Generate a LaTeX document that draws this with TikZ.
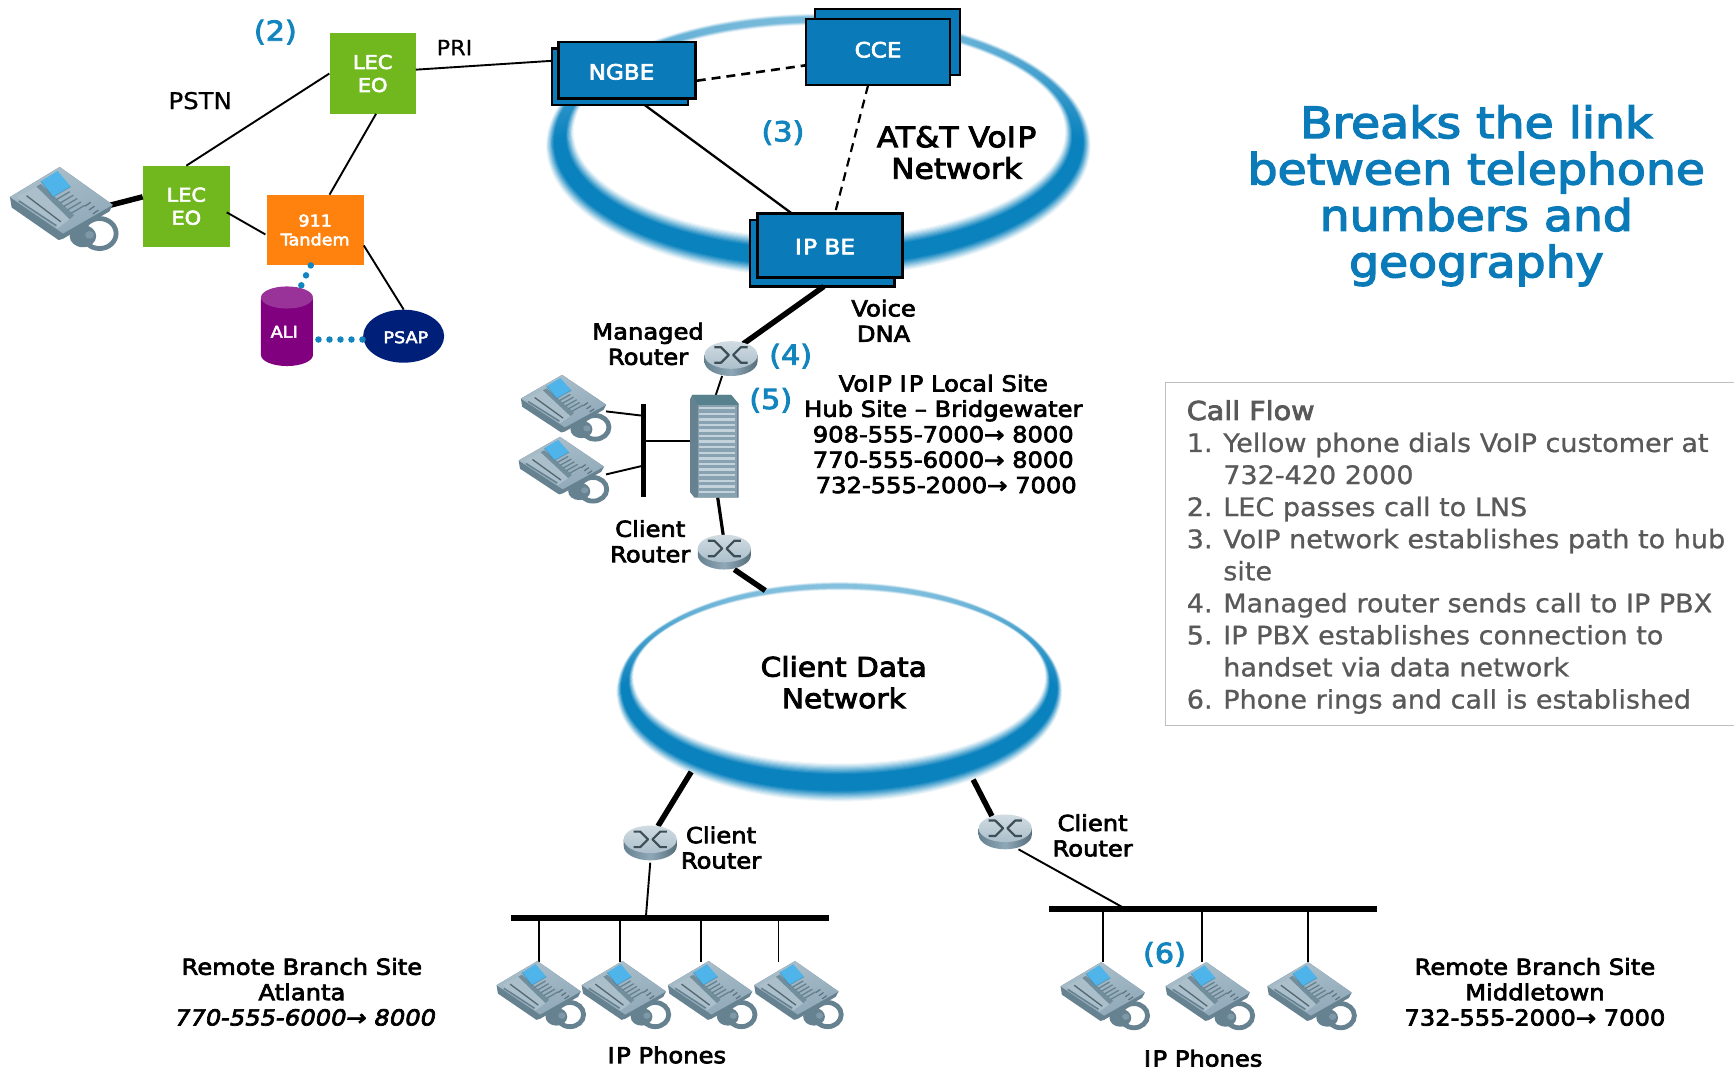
\documentclass[tikz,border=0pt]{standalone}
\usepackage{fontspec}
\usetikzlibrary{shapes.geometric,calc}
\setmainfont{DejaVu Sans}
\newfontfamily\labf[FakeBold=3.2,FakeStretch=1.1]{DejaVu Sans}
\newfontfamily\labi[FakeBold=3.2,FakeStretch=1.1,FakeSlant=0.2]{DejaVu Sans}
\newfontfamily\regf[FakeBold=0.8,FakeStretch=1.06]{DejaVu Sans}
\definecolor{attblue}{HTML}{0A7AB8}
\definecolor{ringblue}{HTML}{0A82BE}
\definecolor{numblue}{HTML}{1285BF}
\definecolor{lecgreen}{HTML}{70B81E}
\definecolor{tandem}{HTML}{FF820E}
\definecolor{alipurple}{HTML}{800080}
\definecolor{alitop}{HTML}{993399}
\definecolor{psapblue}{HTML}{001F78}
\definecolor{phbody}{HTML}{8FA8B8}
\definecolor{phdark}{HTML}{66818F}
\definecolor{phlight}{HTML}{ABBFCB}
\definecolor{phscreen}{HTML}{4FB4EA}
\definecolor{cfgrey}{HTML}{595959}
\tikzset{
  x=1.1059pt,y=-1.1059pt,
  lab/.style={font=\labf\fontsize{22}{25.4}\selectfont,align=center,inner sep=0pt,text=black},
  labit/.style={font=\labi\fontsize{22}{25.4}\selectfont,align=center,inner sep=0pt,text=black},
  netlab/.style={font=\labf\fontsize{27}{31.5}\selectfont,align=center,inner sep=0pt,text=black},
  numlab/.style={font=\labf\fontsize{27.5}{30}\selectfont,inner sep=0pt,text=numblue},
  thinlab/.style={font=\regf\fontsize{21}{25}\selectfont,inner sep=0pt,text=black},
  whitelab/.style={font=\labf\fontsize{19}{23}\selectfont,align=center,text=white},
  bluebox/.style={draw=black,line width=2.4pt,fill=attblue,inner sep=0pt},
  boxlab/.style={font=\labf\fontsize{21}{25}\selectfont,text=white,inner sep=0pt},
  thin line/.style={draw=black,line width=1.9pt},
  mid line/.style={draw=black,line width=3.2pt},
  thick line/.style={draw=black,line width=5.5pt},
  dash line/.style={draw=black,line width=2.6pt,dash pattern=on 9pt off 6pt},
  dot line/.style={draw=numblue,line width=6.5pt,line cap=round,dash pattern=on 0pt off 11pt},
  phone/.pic={
    \draw[phdark,line width=4.8pt] (81,51) ellipse [x radius=15,y radius=11.5];
    \fill[phdark] (66,53) ellipse [x radius=12,y radius=8.5];
    \fill[phbody!60!phdark] (72,52) ellipse [x radius=4,y radius=3];
    \fill[phdark] (0,23)--(45,0)--(93,29)--(90,34)--(48,55)--(44,56)--(1.5,31)--cycle;
    \path[left color=phlight,right color=phbody,shading angle=20] (0,23)--(45,0)--(93,29)--(48,51)--cycle;
    \path[fill=phlight] (6,23)--(24,15)--(54,40)--(43,47)--cycle;
    \draw[phdark,line width=1.6pt] (8,26)--(42,45);
    \draw[phdark!80!black,line width=1.3pt] (15,22)--(46,42);
    \fill[phdark!70!phbody] (24,15)--(28,13)--(58,37)--(54,40)--cycle;
    \fill[phscreen] (28,11)--(43,3)--(55,15)--(39,23)--cycle;
    \draw[phscreen!50!black,opacity=.3,line width=.8pt] (28,11)--(39,23)--(55,15);
    \foreach \k in {0,1,2,3,4}{
      \draw[phdark,line width=1.3pt] ($(42,25)+(\k*3.4,\k*2.6)$)--($(54,19)+(\k*3.4,\k*2.6)$);
    }
    \foreach \k in {0,1,2}{
      \draw[phdark!90!black,line width=1.2pt] ($(68,30)+(\k*3.5,\k*3)$)--($(73,27)+(\k*3.5,\k*3)$);
    }
  },
  router/.pic={
    \path[left color=phdark,right color=phdark!85!black,middle color=phbody] (0,13)--(0,19) arc[start angle=180,end angle=360,x radius=24,y radius=-13]--(48,13)--cycle;
    \path[top color=phlight!55!white,bottom color=phlight] (24,13) ellipse [x radius=24,y radius=12.5];
    \draw[phdark!60!black,line width=2.2pt,line join=round] (9,6)--(15,6)--(22,13)--(15,20)--(9,20) (39,6)--(33,6)--(26,13)--(33,20)--(39,20);
  }
}
\newcommand\boxat[7]{%
  \pgfmathsetmacro\bw{(#4-#2)*1.1059}\pgfmathsetmacro\bh{(#5-#3)*1.1059}%
  \node[#6,rectangle,minimum width=\bw pt,minimum height=\bh pt] (#1) at ({(#2+#4)/2},{(#3+#5)/2}) {#7};}
\newcommand\ringell[9]{%
  \foreach \i in {0,...,36}{
    \pgfmathsetmacro\t{\i/36}
    \pgfmathsetmacro\cxx{#1+(#5-#1)*\t}
    \pgfmathsetmacro\cyy{#2+(#6-#2)*\t}
    \pgfmathsetmacro\rxx{#3+(#7-#3)*\t}
    \pgfmathsetmacro\ryy{#4+(#8-#4)*\t}
    \pgfmathsetmacro\pp{\i==36 ? 0 : min(100,100*1.3*sin(180*\t)^1.3)}
    \pgfmathsetmacro\qq{\pp*#9}
    \path[top color=ringblue!\qq!white,bottom color=ringblue!\pp!white,middle color=ringblue!\pp!white] (\cxx,\cyy) ellipse [x radius=\rxx,y radius=\ryy];
  }}
\begin{document}
\begin{tikzpicture}
\useasboundingbox (0,0) rectangle (1568,967.5);
\fill[white] (0,0) rectangle (1568,967.5);
% rings
\ringell{740}{132}{247}{120}{741}{119}{222}{96}{0.55}
\ringell{759}{626}{202}{100}{759}{612}{186}{78}{0.5}
% nodes
\boxat{lecA}{298}{30}{376}{103}{fill=lecgreen,whitelab}{LEC\\EO}
\boxat{lecB}{129}{150}{208}{223}{fill=lecgreen,whitelab}{LEC\\EO}
\boxat{tand}{241}{176}{329}{240}{fill=tandem,whitelab,font=\labf\fontsize{16}{19}\selectfont}{911\\Tandem}
\boxat{ngbeb}{499}{44}{622}{95}{bluebox}{}
\boxat{ngbe}{505}{38}{629}{89}{bluebox}{}
\boxat{cceb}{737}{8}{868}{68}{bluebox}{}
\boxat{cce}{729}{17}{859}{77}{bluebox}{}
\boxat{ipbeb}{678}{199}{809}{259}{bluebox}{}
\boxat{ipbe}{685}{193}{816}{251}{bluebox}{}
\node[boxlab] (ngbet) at (562,65) {NGBE};
\node[boxlab] (ccet) at (794,45) {CCE};
\node[boxlab] (ipbet) at (746,223) {I\kern1.5pt P BE};
% ALI cylinder
\path[fill=alipurple] (236,270)--(236,321) arc[start angle=180,end angle=360,x radius=23.5,y radius=-10]--(283,270)--cycle;
\fill[alitop] (259.5,269) ellipse [x radius=23.5,y radius=10];
\node[inner sep=0pt,text=white,font=\labf\fontsize{16}{19}\selectfont] (ali) at (257,300) {ALI};
\node[ellipse,fill=psapblue,minimum width=81pt,minimum height=53pt,inner sep=0pt] (psap) at (365,304) {};
\node[inner sep=0pt,text=white,font=\labf\fontsize{16}{19}\selectfont] (psapt) at (367,305) {PSAP};
% anchors for connector ends
\coordinate (lecAb) at (340,103);
\coordinate (tandt) at (298,176);
\coordinate (lecBe) at (205,192);
\coordinate (tandw) at (240,212);
\coordinate (tande) at (329,222);
\coordinate (lecAe) at (376,63);
\coordinate (ngbeW) at (499,55);
\coordinate (ngbeE) at (630,73);
\coordinate (cceW) at (729,59);
\coordinate (cceS) at (785,77);
\coordinate (ipT) at (755,193);
\coordinate (ipT2) at (716,193);
\coordinate (ngS) at (583,95);
\coordinate (ipS) at (745,259);
\coordinate (rmN) at (672,311);
\coordinate (rmS) at (653,340);
\coordinate (srvN) at (647,358);
\coordinate (srvS) at (649,450);
\coordinate (rcN) at (654,484);
\coordinate (rcS) at (664,515);
\coordinate (netT) at (692,534);
\coordinate (netBL) at (625,698);
\coordinate (rlN) at (595,747);
\coordinate (rlS) at (588,780);
\coordinate (netBR) at (880,705);
\coordinate (rrN) at (897,738);
\coordinate (rrS) at (921,768);
\coordinate (barLt) at (584,830);
\coordinate (barRt) at (1018,822);
\coordinate (phM) at (98,186);
\coordinate (lecBw) at (129,178);
\coordinate (aliT) at (272,259);
\coordinate (tandb) at (281,240);
\coordinate (aliE) at (288,307);
\coordinate (psW) at (330,307);
% connectors
\draw[thin line] (lecA.west)--(lecB.north);
\draw[thin line] (lecAe)--(ngbeW);
\draw[thin line] (lecAb)--(tandt);
\draw[thin line] (lecBe)--(tandw);
\draw[thin line] (tande)--(psap.north);
\draw[thick line] (phM)--(lecBw);
\draw[dot line] (tandb)--(aliT);
\draw[dot line] (aliE)--(psW);
\draw[dash line] (ngbeE)--(cceW);
\draw[dash line,line width=2.2pt] (cceS)--(ipT);
\draw[thin line,line width=2.3pt] (ngS)--(ipT2);
\draw[thick line] (ipS)--(rmN);
\draw[thin line] (rmS)--(srvN);
\draw[mid line] (srvS)--(rcN);
\draw[thick line] (rcS)--(netT);
\draw[thick line] (netBL)--(rlN);
\draw[thin line] (rlS)--(barLt);
\draw[thick line] (netBR)--(rrN);
\draw[thin line] (rrS)--(barRt);
% buses
\coordinate (busHa) at (582,365); \coordinate (busHb) at (582,449);
\draw[thick line] (busHa)--(busHb);
\coordinate (busLa) at (462,830); \coordinate (busLb) at (750,830);
\draw[thick line] (busLa)--(busLb);
\coordinate (busRa) at (949,822); \coordinate (busRb) at (1245,822);
\draw[thick line] (busRa)--(busRb);
% hub phones wiring
\coordinate (h1a) at (548,372); \coordinate (h1b) at (582,376);
\coordinate (h2a) at (548,429); \coordinate (h2b) at (582,421);
\coordinate (h3a) at (582,399); \coordinate (h3b) at (624,399);
\draw[thin line] (h1a)--(h1b); \draw[thin line] (h2a)--(h2b); \draw[thin line] (h3a)--(h3b);
\foreach \nm/\xx/\bb/\tt in {la/487/830/870,lb/561/830/870,lc/634/830/870,ld/704/830/870,ra/997/822/870,rb/1087/822/870,rc/1183/822/870}{
  \coordinate (d\nm a) at (\xx,\bb); \coordinate (d\nm b) at (\xx,\tt);
  \draw[thin line] (d\nm a)--(d\nm b);
}
% phones
\pic[xscale=1,yscale=1.18] at (9,151) {phone};
\pic[xscale=.83,yscale=.93] at (471,339) {phone};
\pic[xscale=.83,yscale=.93] at (469,395) {phone};
\foreach \xx in {449,526,604,682}{\pic[xscale=.82,yscale=.95] at (\xx,869) {phone};}
\foreach \xx in {959,1054,1146}{\pic[xscale=.82,yscale=.95] at (\xx,870) {phone};}
% routers
\pic at (637,308) {router};
\pic at (631,483) {router};
\pic at (564,746) {router};
\pic at (885,736) {router};
% server
\fill[phdark] (624,361)--(626,357)--(661,357)--(668,365)--(668,450)--(628,450)--(624,445)--cycle;
\fill[phdark!85!teal] (626,357)--(661,357)--(668,366)--(631,366)--cycle;
\fill[phbody!85!phdark] (631,366) rectangle (666,449);
\foreach \k in {0,...,15}{
  \fill[phlight!70!white] (632,{368+\k*5.05}) rectangle (665,{370.2+\k*5.05});
}
\node[inner sep=0pt,minimum width=48pt,minimum height=103pt] (server) at (646,403) {};
% labels
\node[numlab] (n2) at (249,29) {(2)};
\node[numlab] (n3) at (708,120) {(3)};
\node[numlab] (n4) at (715,322) {(4)};
\node[numlab] (n5) at (697,362) {(5)};
\node[numlab] (n6) at (1053,863) {(6)};
\node[thinlab,font=\regf\fontsize{23}{27}\selectfont] (pstn) at (181,91) {PSTN};
\node[thinlab] (pri) at (411,43) {PRI};
\node[netlab,font=\labf\fontsize{28.5}{31.5}\selectfont] (att) at (865,138) {AT\&T VoI\kern1.5pt P\\Network};
\node[lab] (voice) at (799,290) {Voice\\DNA};
\node[lab] (mgd) at (586,311) {Managed\\Router};
\node[lab] (hub) at (853,392.5) {VoI\kern2pt P I\kern2pt P Local Site\\Hub Site – Bridgewater\\908-555-7000→ 8000\\770-555-6000→ 8000\\\hspace*{6pt}732-555-2000→ 7000};
\node[lab] (cr1) at (588,489.5) {Client\\Router};
\node[netlab] (cdn) at (763,617) {Client Data\\Network};
\node[lab] (cr2) at (652,766.5) {Client\\Router};
\node[lab] (cr3) at (988,755.5) {Client\\Router};
\node[lab] (rba) at (273,885.5) {Remote Branch Site\\Atlanta};
\node[labit] (rban) at (275,920) {770-555-6000→ 8000};
\node[lab] (ipl) at (603,954) {I\kern1.5pt P Phones};
\node[lab] (ipr) at (1088,957) {I\kern1.5pt P Phones};
\node[lab] (rbm) at (1388,897) {Remote Branch Site\\Middletown\\732-555-2000→ 7000};
% title
\node[align=center,inner sep=0pt,text=attblue,font=\labf\fontsize{43}{46.4}\selectfont] (title) at (1335,177) {Breaks the link\\between telephone\\numbers and\\geography};
% call flow box
\coordinate (cfa) at (1568,346); \coordinate (cfb) at (1054,346); \coordinate (cfc) at (1054,656); \coordinate (cfd) at (1568,656);
\draw[black!25,line width=1.6pt] (cfa)--(cfb)--(cfc)--(cfd);
\node[anchor=west,inner sep=0pt,text=cfgrey,font=\labf\fontsize{26}{32}\selectfont] (cft) at (1073,371) {Call Flow};
\node[anchor=north west,inner sep=0pt,align=left,text=cfgrey,font=\regf\fontsize{25.5}{32.07}\selectfont] (cfl) at (1073,391) {%
\makebox[36.5pt][l]{1.}Yellow phone dials VoIP customer at\\
\hspace*{36.5pt}732-420 2000\\
\makebox[36.5pt][l]{2.}LEC passes call to LNS\\
\makebox[36.5pt][l]{3.}VoIP network establishes path to hub\\
\hspace*{36.5pt}site\\
\makebox[36.5pt][l]{4.}Managed router sends call to IP PBX\\
\makebox[36.5pt][l]{5.}IP PBX establishes connection to\\
\hspace*{36.5pt}handset via data network\\
\makebox[36.5pt][l]{6.}Phone rings and call is established};
\end{tikzpicture}
\end{document}
